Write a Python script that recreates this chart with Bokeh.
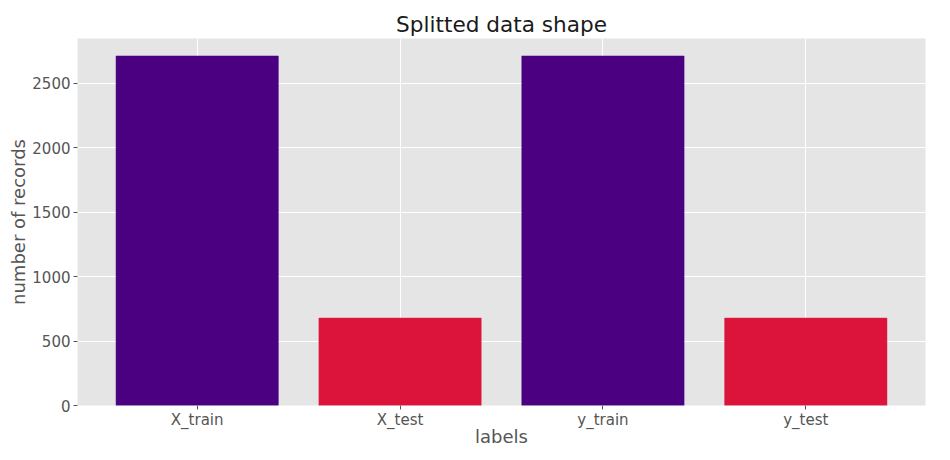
from bokeh.plotting import figure
from bokeh.models import FixedTicker, ColumnDataSource, Range1d
from bokeh.embed import file_html
from bokeh.resources import INLINE

title_text = "Splitted data shape"
labels = ["X_train", "X_test", "y_train", "y_test"]
counts = [2712, 678, 2712, 678]
colors = ["#4B0082", "#DC143C", "#4B0082", "#DC143C"]
y_ticks = [0, 500, 1000, 1500, 2000, 2500]

xs = list(range(len(labels)))
src = ColumnDataSource(dict(x=xs, top=counts, color=colors))

ymax = max(counts) * 1.05
p = figure(width=934, height=452, output_backend="svg", toolbar_location=None,
           x_range=Range1d(-0.59, 3.59), y_range=Range1d(0, ymax),
           title=title_text,
           min_border_left=77, min_border_right=9, min_border_top=38, min_border_bottom=47)
p.vbar(x="x", top="top", width=0.8, bottom=0, fill_color="color", line_color="color", line_width=0.5, source=src)

p.background_fill_color = "#E5E5E5"
p.border_fill_color = "white"
p.outline_line_color = None

p.title.align = "center"
p.title.text_font = "DejaVu Sans"
p.title.text_font_size = "21.6px"
p.title.text_font_style = "normal"
p.title.text_color = "#1a1a1a"
p.title.standoff = 3

for ax in (p.xaxis[0], p.yaxis[0]):
    ax.axis_line_color = None
    ax.major_tick_line_color = "#555555"
    ax.major_tick_in = 0
    ax.major_tick_out = 4
    ax.minor_tick_line_color = None
    ax.major_label_text_font = "DejaVu Sans"
    ax.major_label_text_font_size = "15px"
    ax.major_label_text_color = "#555555"
    ax.axis_label_text_font = "DejaVu Sans"
    ax.axis_label_text_font_size = "18px"
    ax.axis_label_text_font_style = "normal"
    ax.axis_label_text_color = "#555555"
    ax.major_label_standoff = 3

p.xaxis.ticker = FixedTicker(ticks=xs)
p.xaxis.major_label_overrides = {i: l for i, l in zip(xs, labels)}
p.yaxis.ticker = FixedTicker(ticks=y_ticks)
p.xaxis.axis_label = "labels"
p.yaxis.axis_label = "number of records"
p.xaxis.major_label_standoff = 1
p.xaxis.axis_label_standoff = -6
p.yaxis.axis_label_standoff = 0

p.grid.grid_line_color = "white"
p.grid.grid_line_width = 1

open("out.html", "w").write(file_html(p, INLINE))
